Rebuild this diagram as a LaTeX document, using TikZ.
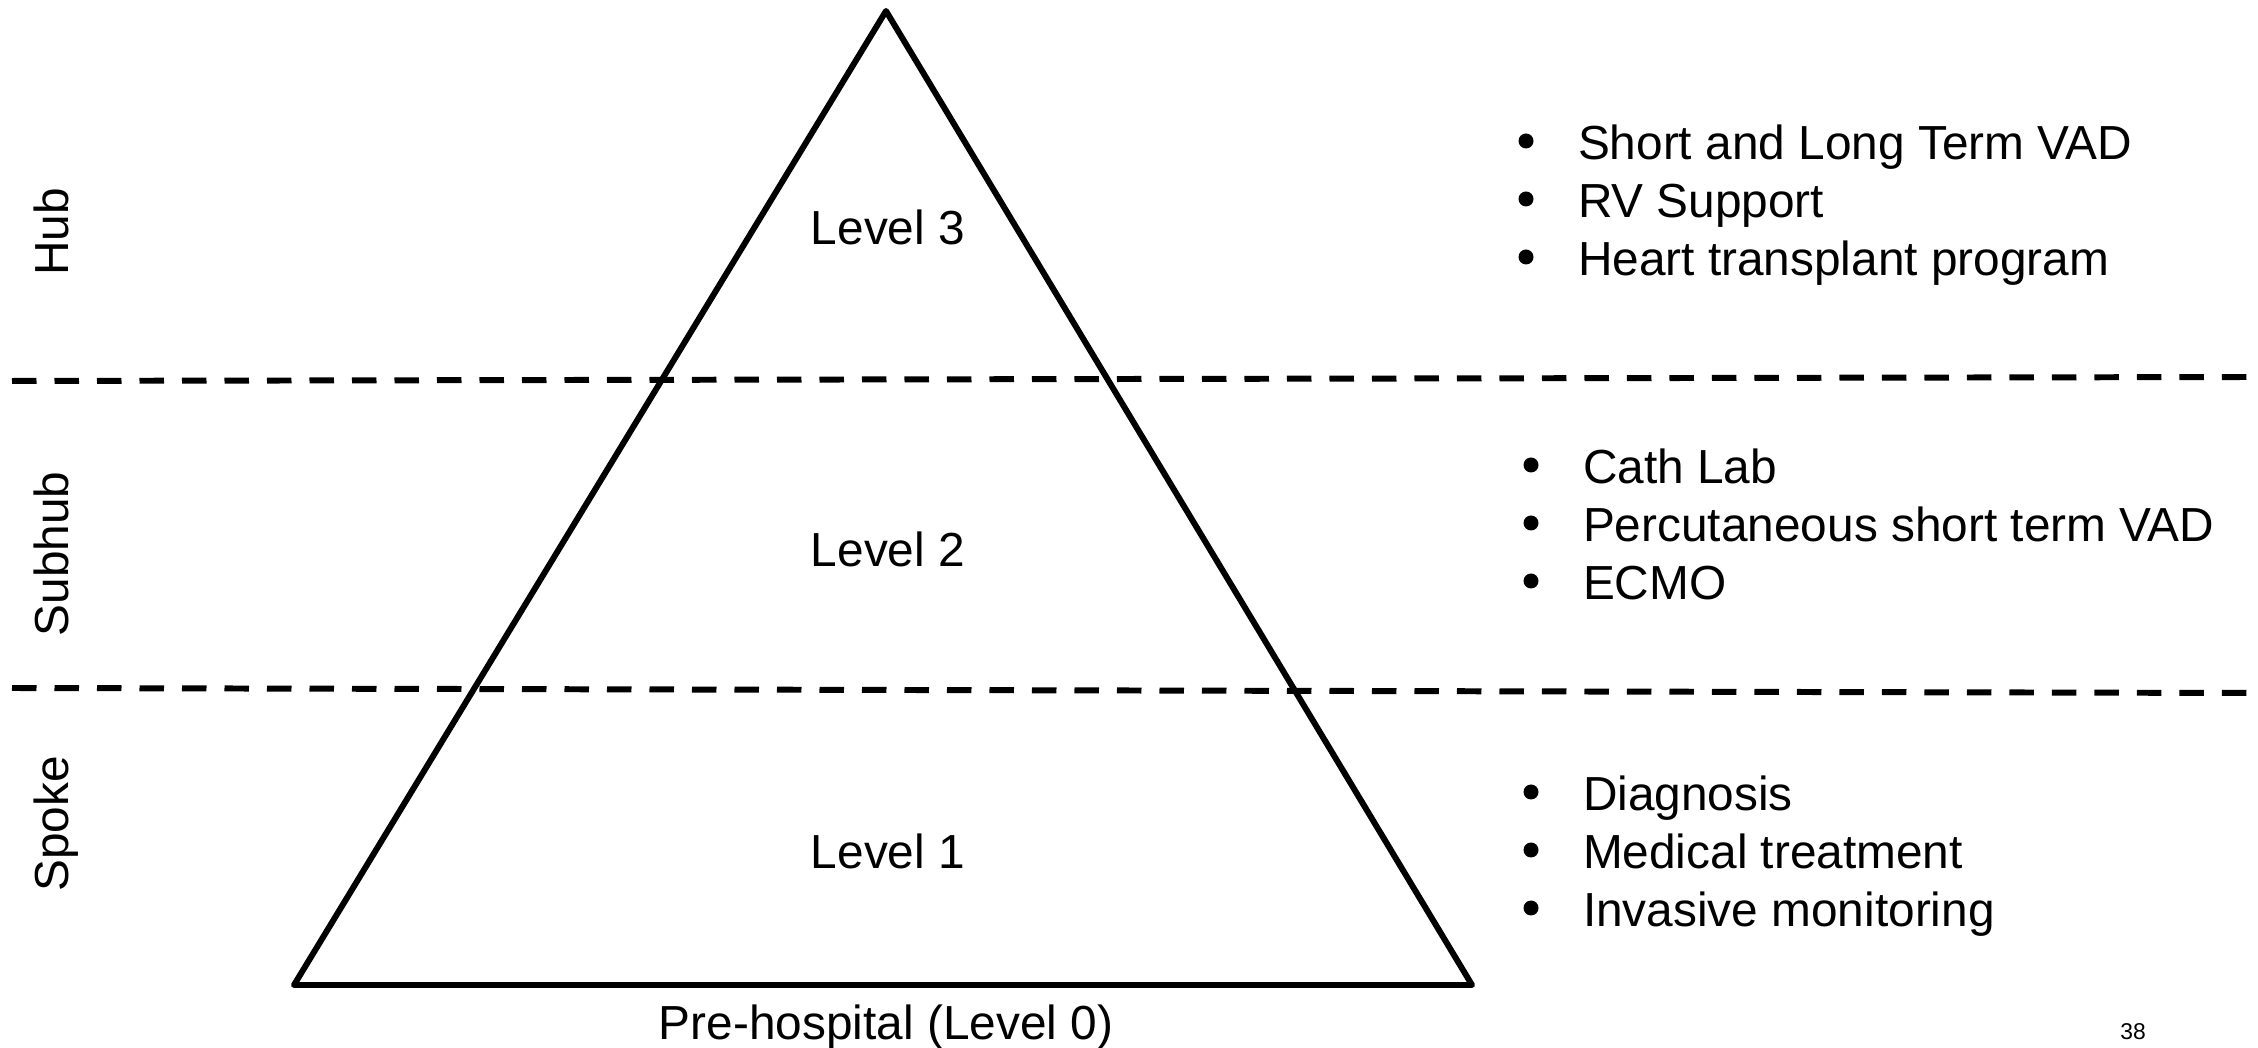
\documentclass[tikz,border=0pt]{standalone}
\usepackage{fontspec}
\setmainfont{Liberation Sans}
\begin{document}
\begin{tikzpicture}[x=0.1mm,y=-0.1mm,
  every node/.style={inner sep=0pt,outer sep=0pt},
  txt/.style={font=\fontsize{13.6}{16}\selectfont},
  item/.style={txt,anchor=base west},
  dot/.style={circle,fill=black,minimum size=1.5mm},
  side/.style={txt,rotate=90,anchor=base},
  level/.style={txt,anchor=base},
  divider/.style={line width=1.7pt,dash pattern=on 2.45mm off 1.8mm},
  pyramid/.style={line width=1.7pt,line join=round}]
\useasboundingbox (0,0) rectangle (2258,1048);

% pyramid
\coordinate (apex) at (886,11);
\coordinate (bl) at (294,985);
\coordinate (br) at (1472,985);
\draw[pyramid] (apex) -- (br) -- (bl) -- cycle;

% tier dividers
\coordinate (d1a) at (12,381);
\coordinate (d1b) at (2252,377);
\coordinate (d2a) at (12,688);
\coordinate (d2b) at (2252,693);
\draw[divider] (d1a) -- (d1b);
\draw[divider] (d2a) -- (d2b);

% tier names
\node[side] (hub) at (68,232) {Hub};
\node[side] (subhub) at (68,554) {Subhub};
\node[side] (spoke) at (68,824) {Spoke};

% levels
\node[level] (l3) at (888,245) {Level 3};
\node[level] (l2) at (888,567) {Level 2};
\node[level] (l1) at (888,869) {Level 1};
\node[level] (l0) at (886,1039) {Pre-hospital (Level 0)};

% level 3 capabilities
\node[dot] (b31) at (1526,141) {};
\node[dot] (b32) at (1526,199) {};
\node[dot] (b33) at (1526,257) {};
\node[item] (t31) at (1578,160) {Short and Long Term VAD};
\node[item] (t32) at (1578,218) {RV Support};
\node[item] (t33) at (1578,276) {Heart transplant program};

% level 2 capabilities
\node[dot] (b21) at (1531,465) {};
\node[dot] (b22) at (1531,523) {};
\node[dot] (b23) at (1531,581) {};
\node[item] (t21) at (1583,484) {Cath Lab};
\node[item] (t22) at (1583,542) {Percutaneous short term VAD};
\node[item] (t23) at (1583,600) {ECMO};

% level 1 capabilities
\node[dot] (b11) at (1531,792) {};
\node[dot] (b12) at (1531,850) {};
\node[dot] (b13) at (1531,908) {};
\node[item] (t11) at (1583,811) {Diagnosis};
\node[item] (t12) at (1583,869) {Medical treatment};
\node[item] (t13) at (1583,927) {Invasive monitoring};

% page number
\node[font=\fontsize{6.5}{8}\selectfont,anchor=base] (pg) at (2133,1039) {38};
\end{tikzpicture}
\end{document}
